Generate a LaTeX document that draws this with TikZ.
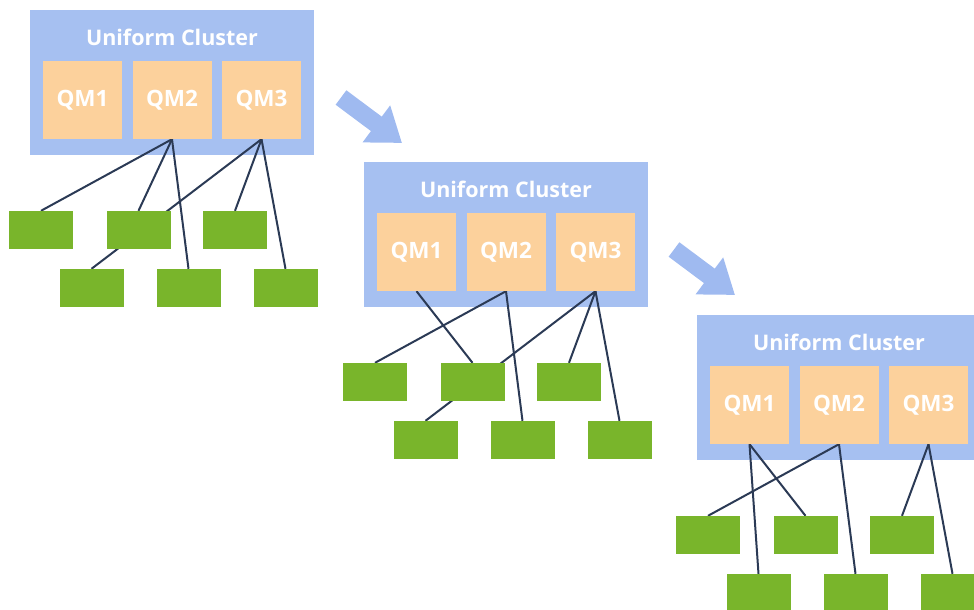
\documentclass[tikz,border=0pt]{standalone}
\usepackage{fontspec}
\setmainfont{Open Sans}
\usepackage{xcolor}
\usepackage{tikz}
\usetikzlibrary{arrows.meta,positioning}
\definecolor{clusterblue}{HTML}{A6C0F1}
\definecolor{arrowblue}{HTML}{9FBAF0}
\definecolor{qmorange}{HTML}{FCD19C}
\definecolor{appgreen}{HTML}{79B52B}
\definecolor{wirenavy}{HTML}{2B3A55}
\pgfdeclarelayer{back}
\pgfdeclarelayer{wires}
\pgfsetlayers{back,wires,main}
\tikzset{
	cluster/.style={
			rectangle,
			fill=clusterblue,
			minimum width=284pt,
			minimum height=145pt,
			inner sep=0pt,
		},
	title/.style={
			text=white,
			font=\fontsize{21.5}{24}\selectfont\bfseries,
			inner sep=0pt,
		},
	qm/.style={
			rectangle,
			fill=qmorange,
			minimum width=79pt,
			minimum height=78pt,
			inner sep=0pt,
			text=white,
			font=\fontsize{22.5}{24}\selectfont\bfseries
		},
	app/.style={
			rectangle,
			fill=appgreen,
			minimum width=64pt,
			minimum height=38pt,
			inner sep=0pt
		},
	wire/.style={draw=wirenavy, line width=2pt},
	bigarrow/.style={draw=arrowblue, line width=18pt, -{Triangle[width=44pt,length=32pt]}}
}

\begin{document}
\begin{tikzpicture}[x=1pt,y=-1pt]
			\useasboundingbox (0,0) rectangle (974,610);

			\begin{pgfonlayer}{back}
				\node[cluster] at (172,82.5) (c1) {};
				\node[cluster] at (506,234.5) (c2) {};
				\node[cluster] at (839,387.5) (c3) {};
			\end{pgfonlayer}

			\node[title] at (172,37) (c1t) {Uniform Cluster};
			\node[qm] at (82.5,100) (c1q1) {QM1};
			\node[qm] at (172,100) (c1q2) {QM2};
			\node[qm] at (261.5,100) (c1q3) {QM3};
			\node[app] at (41,230) (c1g1) {};
			\node[app] at (138.5,230) (c1g2) {};
			\node[app] at (235,230) (c1g3) {};
			\node[app] at (91.5,288) (c1g4) {};
			\node[app] at (188.5,288) (c1g5) {};
			\node[app] at (285.5,288) (c1g6) {};

			\node[title] at (506,189) (c2t) {Uniform Cluster};
			\node[qm] at (416.5,252) (c2q1) {QM1};
			\node[qm] at (506,252) (c2q2) {QM2};
			\node[qm] at (595.5,252) (c2q3) {QM3};
			\node[app] at (375,382) (c2g1) {};
			\node[app] at (472.5,382) (c2g2) {};
			\node[app] at (569,382) (c2g3) {};
			\node[app] at (425.5,440) (c2g4) {};
			\node[app] at (522.5,440) (c2g5) {};
			\node[app] at (619.5,440) (c2g6) {};

			\node[title] at (839,342) (c3t) {Uniform Cluster};
			\node[qm] at (749.5,405) (c3q1) {QM1};
			\node[qm] at (839,405) (c3q2) {QM2};
			\node[qm] at (928.5,405) (c3q3) {QM3};
			\node[app] at (708,535) (c3g1) {};
			\node[app] at (805.5,535) (c3g2) {};
			\node[app] at (902,535) (c3g3) {};
			\node[app] at (758.5,593) (c3g4) {};
			\node[app] at (855.5,593) (c3g5) {};
			\node[app] at (952.5,593) (c3g6) {};

			\begin{pgfonlayer}{wires}
				\draw[wire] (c1q2.south) -- (c1g1.north) ;
				\draw[wire] (c1q2.south) -- (c1g2.north) ;
				\draw[wire] (c1q2.south) -- (c1g5.north) ;
				\draw[wire] (c1q3.south) -- (c1g4.north) ;
				\draw[wire] (c1q3.south) -- (c1g3.north) ;
				\draw[wire] (c1q3.south) -- (c1g6.north) ;

				\draw[wire] (c2q1.south) -- (c2g2.north) ;
				\draw[wire] (c2q2.south) -- (c2g1.north) ;
				\draw[wire] (c2q2.south) -- (c2g5.north) ;
				\draw[wire] (c2q3.south) -- (c2g4.north) ;
				\draw[wire] (c2q3.south) -- (c2g3.north) ;
				\draw[wire] (c2q3.south) -- (c2g6.north) ;

				\draw[wire] (c3q1.south) -- (c3g4.north) ;
				\draw[wire] (c3q1.south) -- (c3g2.north) ;
				\draw[wire] (c3q2.south) -- (c3g1.north) ;
				\draw[wire] (c3q2.south) -- (c3g5.north) ;
				\draw[wire] (c3q3.south) -- (c3g3.north) ;
				\draw[wire] (c3q3.south) -- (c3g6.north) ;
			\end{pgfonlayer}

			\coordinate (a1s) at (341,97.5);
			\coordinate (a1e) at (402,143);
			\coordinate (a2s) at (674,249.5);
			\coordinate (a2e) at (735,295);
			\draw[bigarrow] (a1s) -- (a1e) ;
			\draw[bigarrow] (a2s) -- (a2e) ;
		\end{tikzpicture}
\end{document}
